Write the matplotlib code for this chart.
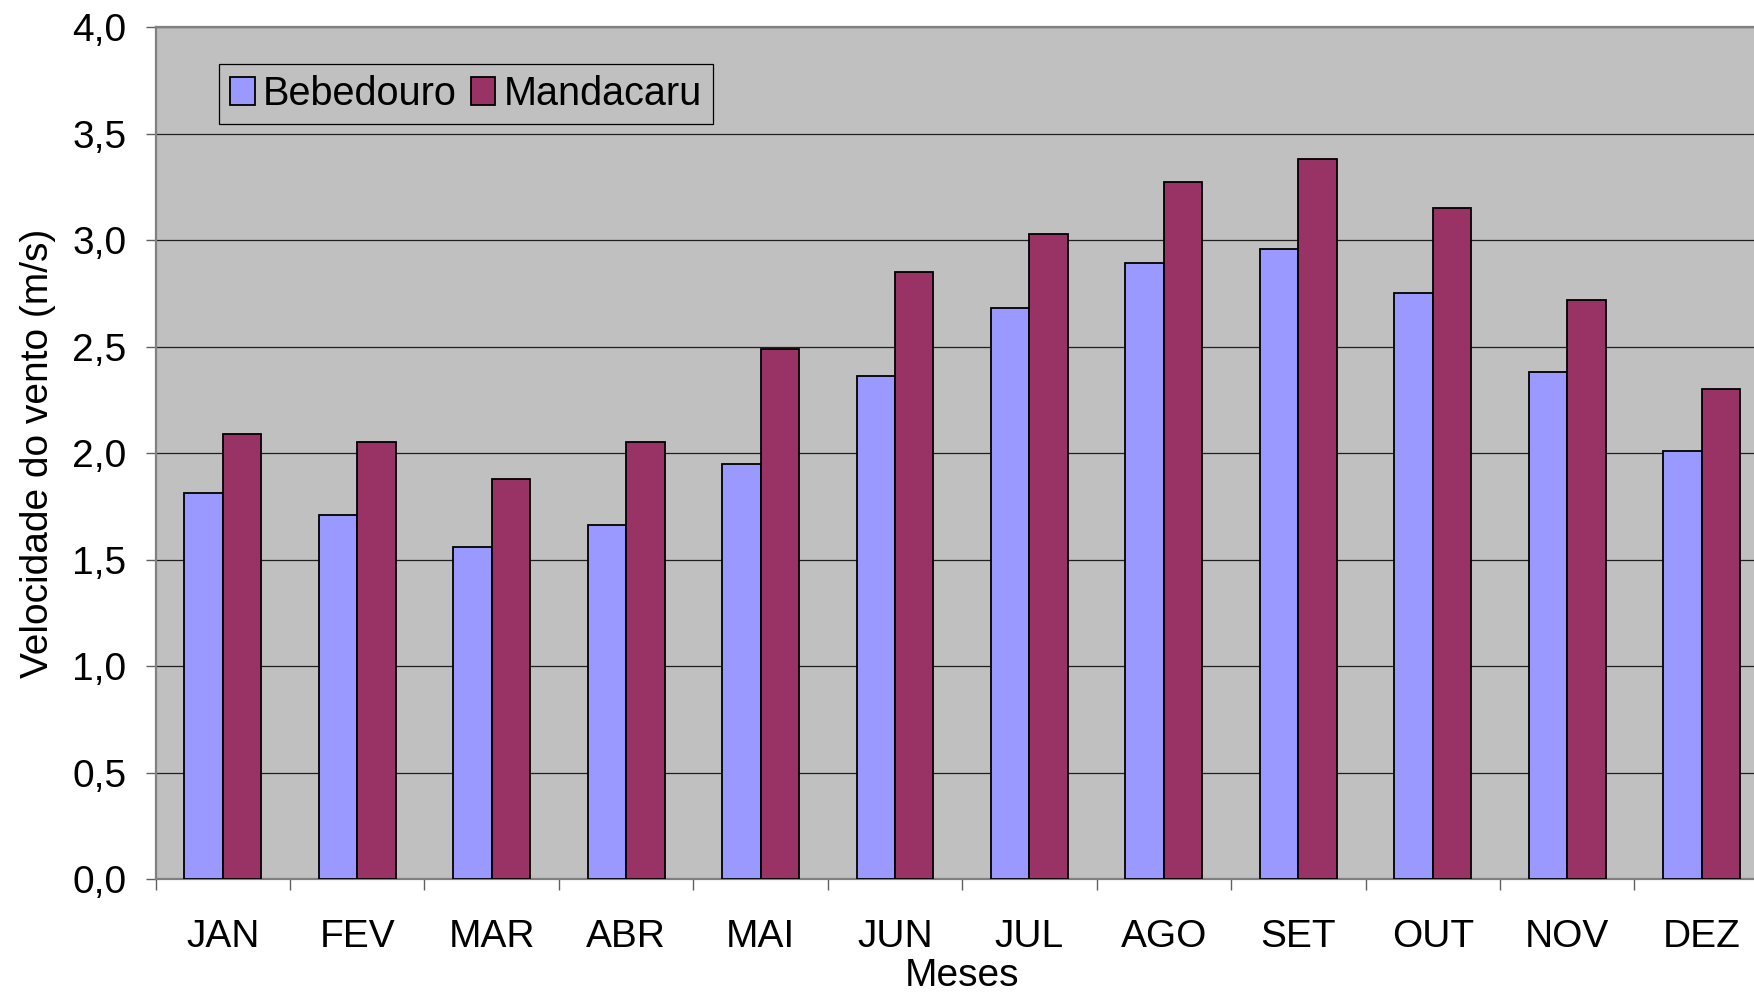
import numpy as np
import matplotlib
matplotlib.use('Agg')
import matplotlib.pyplot as plt
from matplotlib.ticker import FixedLocator, FuncFormatter, NullFormatter

meses = ['JAN', 'FEV', 'MAR', 'ABR', 'MAI', 'JUN',
         'JUL', 'AGO', 'SET', 'OUT', 'NOV', 'DEZ']
bebedouro = [1.81, 1.71, 1.56, 1.66, 1.95, 2.36, 2.68, 2.89, 2.96, 2.75, 2.38, 2.01]
mandacaru = [2.09, 2.05, 1.88, 2.05, 2.49, 2.85, 3.03, 3.27, 3.38, 3.15, 2.72, 2.30]
y_ticks = [0.0, 0.5, 1.0, 1.5, 2.0, 2.5, 3.0, 3.5, 4.0]

plt.rcParams['font.family'] = ['Liberation Sans', 'DejaVu Sans']
fs = 28

fig = plt.figure(figsize=(17.54, 9.93), dpi=100)
# the plot area runs a bit past the right edge, as in the original
ax = fig.add_axes([0.0887, 0.1148, 0.9198, 0.858])
ax.set_facecolor('#C0C0C0')

x = np.arange(len(meses))
width = 1 / 3.5  # two bars + 150% gap
ax.bar(x - width / 2, bebedouro, width, color='#9999FF', edgecolor='black',
       linewidth=1.3, label='Bebedouro', zorder=3)
ax.bar(x + width / 2, mandacaru, width, color='#993366', edgecolor='black',
       linewidth=1.3, label='Mandacaru', zorder=3)

ax.set_xlim(-0.5, len(meses) - 0.5)
ax.set_ylim(0, 4)

ax.yaxis.set_major_locator(FixedLocator(y_ticks))
ax.yaxis.set_major_formatter(FuncFormatter(lambda v, p: f'{v:.1f}'.replace('.', ',')))
ax.grid(axis='y', color='#202020', linewidth=0.9, zorder=0)

# ticks between categories, labels at the centres
ax.xaxis.set_major_locator(FixedLocator(np.arange(len(meses) + 1) - 0.5))
ax.xaxis.set_major_formatter(NullFormatter())
ax.xaxis.set_minor_locator(FixedLocator(x))
ax.set_xticks(x, meses, minor=True)
ax.tick_params(axis='x', which='minor', length=0, pad=29, labelsize=fs)
ax.tick_params(axis='x', which='major', length=8, width=1, color='#606060', direction='out')
ax.tick_params(axis='y', length=7, width=1, color='#606060', direction='out',
               pad=14, labelsize=fs)

for side in ['left', 'bottom', 'top', 'right']:
    ax.spines[side].set_color('#808080')
    ax.spines[side].set_linewidth(1.6)

ax.set_xlabel('Meses', fontsize=fs)
ax.xaxis.set_label_coords(0.5, -0.093)
ax.set_ylabel('Velocidade do vento (m/s)', fontsize=fs)
ax.yaxis.set_label_coords(-0.062, 0.5)

leg = ax.legend(loc='upper left', bbox_to_anchor=(0.0394, 0.9566), borderaxespad=0,
                ncol=2, fontsize=28.5, handlelength=0.62, handleheight=0.7,
                handletextpad=0.2, columnspacing=0.36, borderpad=0.28,
                fancybox=False, framealpha=1)
leg.get_frame().set_facecolor('#C0C0C0')
leg.get_frame().set_edgecolor('black')
leg.get_frame().set_linewidth(0.9)

plt.savefig('out.png', dpi=100)
